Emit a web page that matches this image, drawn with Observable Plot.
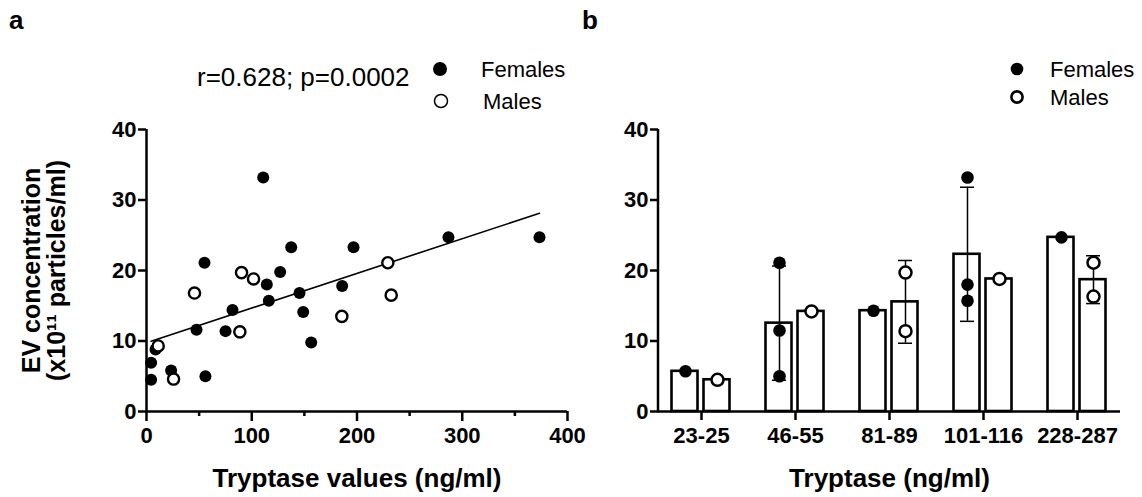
<!DOCTYPE html>
<html><head><meta charset="utf-8">
<script src="https://cdn.jsdelivr.net/npm/d3@7"></script>
<script src="https://cdn.jsdelivr.net/npm/@observablehq/plot@0.6"></script>
<style>
html,body{margin:0;padding:0;background:#fff;}
#root{position:relative;width:1142px;height:497px;overflow:hidden;font-family:"Liberation Sans",Arial,Helvetica,sans-serif;}
#root > *{position:absolute;top:0;}
</style></head><body><div id="root"></div>
<script>
// ---------- Panel a data ----------
const femaleTryptase = [110.9, 55.1, 137.5, 196.7, 127, 114.3, 116.2, 185.9, 145.4, 148.9, 81.7, 47.5, 75.1, 156.5, 8.6, 4.4, 4.4, 23.4, 56, 286.9, 373.4];
const femaleEV       = [33.2, 21.1, 23.3, 23.3, 19.8, 18.0, 15.7, 17.8, 16.8, 14.1, 14.4, 11.6, 11.4, 9.8, 8.8, 6.9, 4.5, 5.8, 5.0, 24.7, 24.7];
const maleTryptase = [45.6, 90.3, 101.7, 88.7, 25.7, 11.1, 229.3, 232.5, 185.6];
const maleEV       = [16.8, 19.7, 18.8, 11.3, 4.6, 9.3, 21.1, 16.5, 13.5];
const fitSlope = 0.0492, fitIntercept = 9.75;
const xTicksA = [0, 100, 200, 300, 400];
const xMinorTicksA = [50, 150, 250, 350];
const yTicks = [0, 10, 20, 30, 40];

// ---------- Panel b data ----------
const groups = ["23-25", "46-55", "81-89", "101-116", "228-287"];
const femaleGroupValues = [[5.7], [21.1, 11.5, 5.0], [14.3], [33.2, 18.0, 15.7], [24.7]];
const maleGroupValues   = [[4.5], [14.2], [19.7, 11.4], [18.8], [21.1, 16.3]];

const FONT = '"Liberation Sans", Arial, Helvetica, sans-serif';
const root = document.getElementById("root");

// ---------- Panel a ----------
const females = femaleTryptase.map((x, i) => ({x, y: femaleEV[i]}));
const males = maleTryptase.map((x, i) => ({x, y: maleEV[i]}));
const allX = femaleTryptase.concat(maleTryptase);
const fitX = [d3.min(allX), d3.max(allX)];

const pa = Plot.plot({
  width: 580, height: 497,
  marginLeft: 146, marginRight: 13, marginTop: 129, marginBottom: 86,
  x: {domain: [0, 400]},
  y: {domain: [0, 40]},
  style: {fontFamily: FONT, fontWeight: "bold", color: "#000", background: "none", overflow: "visible"},
  marks: [
    Plot.axisY({ticks: yTicks, tickSize: 8, tickPadding: 2, strokeWidth: 2.5, fontSize: 22, fontWeight: "bold", label: null}),
    Plot.axisX({ticks: xTicksA, tickSize: 10, tickPadding: 6, strokeWidth: 2.5, fontSize: 22, fontWeight: "bold", label: null}),
    Plot.axisX({ticks: xMinorTicksA, tickSize: 5, strokeWidth: 2.5, tickFormat: () => "", label: null}),
    Plot.ruleY([0], {stroke: "#000", strokeWidth: 2.5}),
    Plot.ruleX([0], {stroke: "#000", strokeWidth: 2.5}),
    Plot.line(fitX, {x: d => d, y: d => fitIntercept + fitSlope * d, stroke: "#000", strokeWidth: 1.6}),
    Plot.dot(females, {x: "x", y: "y", r: 6, fill: "#000", stroke: "none"}),
    Plot.dot(males, {x: "x", y: "y", r: 5.6, fill: "#fff", stroke: "#000", strokeWidth: 2.4}),
    Plot.text(["Tryptase values (ng/ml)"], {frameAnchor: "bottom", lineAnchor: "middle", dy: 67, fontSize: 26, fontWeight: "bold", fill: "#000"}),
    Plot.text(["EV concentration\n(x10¹¹ particles/ml)"], {frameAnchor: "left", lineAnchor: "middle", textAnchor: "middle", rotate: -90, dx: -102, lineHeight: 1.0, fontSize: 25, fontWeight: "bold", fill: "#000"})
  ]
});
pa.style.left = "0px";
root.appendChild(pa);

// ---------- Panel b ----------
const stat = (vals, g, sex) => ({group: g, sex, mean: d3.mean(vals), sd: vals.length > 1 ? d3.deviation(vals) : 0, n: vals.length});
const fStats = groups.map((g, i) => stat(femaleGroupValues[i], g, "F"));
const mStats = groups.map((g, i) => stat(maleGroupValues[i], g, "M"));
const fPts = groups.flatMap((g, i) => femaleGroupValues[i].map(v => ({group: g, v})));
const mPts = groups.flatMap((g, i) => maleGroupValues[i].map(v => ({group: g, v})));
const fErr = fStats.filter(d => d.n > 1);
const mErr = mStats.filter(d => d.n > 1);
const OFF = 16;

const pbLeft = 571;
const pb = Plot.plot({
  width: 571, height: 497,
  marginLeft: 87, marginRight: 22, marginTop: 129, marginBottom: 86,
  x: {type: "band", domain: groups, paddingInner: 0.34, paddingOuter: 0.127},
  y: {domain: [0, 40]},
  style: {fontFamily: FONT, fontWeight: "bold", color: "#000", background: "none", overflow: "visible"},
  marks: [
    Plot.axisY({ticks: yTicks, tickSize: 8, tickPadding: 2, strokeWidth: 2.5, fontSize: 22, fontWeight: "bold", label: null}),
    Plot.axisX({tickSize: 9, tickPadding: 7, strokeWidth: 2.5, fontSize: 22, fontWeight: "bold", label: null}),
    Plot.barY(fStats, {x: "group", y: "mean", insetLeft: 1.5, insetRight: 34.5, fill: "#fff", stroke: "#000", strokeWidth: 2.6}),
    Plot.barY(mStats, {x: "group", y: "mean", insetLeft: 33.5, insetRight: 2.5, fill: "#fff", stroke: "#000", strokeWidth: 2.6}),
    Plot.ruleX(fErr, {x: "group", y1: d => d.mean - d.sd, y2: d => d.mean + d.sd, dx: -OFF, stroke: "#000", strokeWidth: 1.5}),
    Plot.ruleX(mErr, {x: "group", y1: d => d.mean - d.sd, y2: d => d.mean + d.sd, dx: OFF, stroke: "#000", strokeWidth: 1.5}),
    Plot.tickY(fErr.flatMap(d => [{group: d.group, v: d.mean - d.sd}, {group: d.group, v: d.mean + d.sd}]), {x: "group", y: "v", dx: -OFF, insetLeft: 24, insetRight: 24, stroke: "#000", strokeWidth: 1.5}),
    Plot.tickY(mErr.flatMap(d => [{group: d.group, v: d.mean - d.sd}, {group: d.group, v: d.mean + d.sd}]), {x: "group", y: "v", dx: OFF, insetLeft: 24, insetRight: 24, stroke: "#000", strokeWidth: 1.5}),
    Plot.ruleY([0], {stroke: "#000", strokeWidth: 2.5}),
    Plot.dot(fPts, {x: "group", y: "v", dx: -OFF, r: 6.3, fill: "#000", stroke: "none"}),
    Plot.dot(mPts, {x: "group", y: "v", dx: OFF, r: 6, fill: "#fff", stroke: "#000", strokeWidth: 2.5}),
    Plot.text(["Tryptase (ng/ml)"], {frameAnchor: "bottom", lineAnchor: "middle", dy: 67, fontSize: 26, fontWeight: "bold", fill: "#000"})
  ]
});
pb.style.left = pbLeft + "px";
root.appendChild(pb);
// y axis line of panel b
{
  const ys = pb.scale("y");
  d3.select(pb).append("line")
    .attr("x1", 87).attr("x2", 87)
    .attr("y1", ys.apply(40)).attr("y2", ys.apply(0) + 1.25)
    .attr("stroke", "#000").attr("stroke-width", 2.5);
}

// ---------- Overlay: panel letters, annotation, legends ----------
const ov = d3.create("svg").attr("width", 1142).attr("height", 497)
  .style("position", "absolute").style("left", "0px").style("top", "0px")
  .style("font-family", FONT).style("pointer-events", "none");
ov.append("text").attr("x", 9).attr("y", 29).attr("font-size", 26).attr("font-weight", "bold").text("a");
ov.append("text").attr("x", 582).attr("y", 29).attr("font-size", 26).attr("font-weight", "bold").text("b");
ov.append("text").attr("x", 197).attr("y", 86).attr("font-size", 26).text("r=0.628; p=0.0002");
// legend a
ov.append("circle").attr("cx", 440).attr("cy", 69).attr("r", 7).attr("fill", "#000");
ov.append("circle").attr("cx", 441).attr("cy", 101).attr("r", 6.5).attr("fill", "#fff").attr("stroke", "#000").attr("stroke-width", 1.5);
ov.append("text").attr("x", 481).attr("y", 77).attr("font-size", 22).text("Females");
ov.append("text").attr("x", 483).attr("y", 109).attr("font-size", 22).text("Males");
// legend b
ov.append("circle").attr("cx", 1017).attr("cy", 69).attr("r", 6.3).attr("fill", "#000");
ov.append("circle").attr("cx", 1017).attr("cy", 97).attr("r", 5.6).attr("fill", "#fff").attr("stroke", "#000").attr("stroke-width", 2.6);
ov.append("text").attr("x", 1050).attr("y", 77).attr("font-size", 22).text("Females");
ov.append("text").attr("x", 1050).attr("y", 105).attr("font-size", 22).text("Males");
root.appendChild(ov.node());
</script></body></html>
